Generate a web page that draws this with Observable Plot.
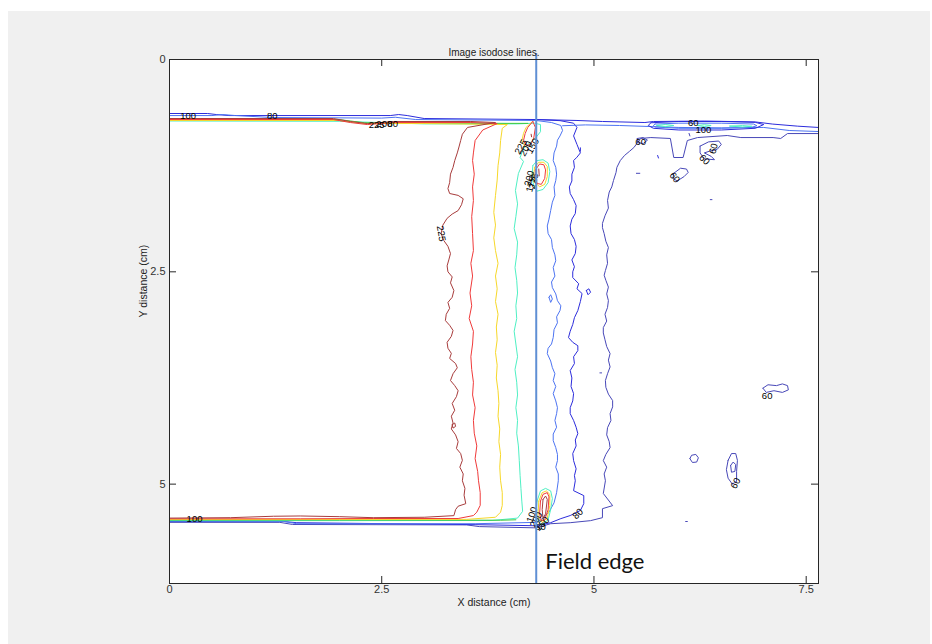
<!DOCTYPE html>
<html><head><meta charset="utf-8">
<script src="https://cdn.jsdelivr.net/npm/d3@7"></script>
<script src="https://cdn.jsdelivr.net/npm/@observablehq/plot@0.6"></script>
<style>
html,body{margin:0;padding:0;background:#fff;}
#bg{position:absolute;left:8px;top:11px;width:922px;height:633px;background:#f0f0f0;}
#chart{position:absolute;left:0;top:0;}
</style></head><body><div id="bg"></div><div id="chart"></div>
<script>
// axis ticks / extents (cm)
const xTicks = [0, 2.5, 5, 7.5];
const yTicks = [0, 2.5, 5];
const xMax = 7.645, yMax = 6.17;
const fieldEdge = 4.32;

// isodose levels
const levels = [225, 200, 175, 125, 150, 100, 80, 60];

// contour paths [x cm, y cm]
const iso225 = [[0,0.695],[0.36,0.695],[1.93,0.695],[2.13,0.73],[2.33,0.754],[2.64,0.73],[3.55,0.73],[3.84,0.742],[3.51,0.80],[3.45,0.88],[3.43,0.954],[3.41,1.03],[3.39,1.10],[3.36,1.19],[3.34,1.27],[3.31,1.35],[3.30,1.45],[3.28,1.52],[3.30,1.578],[3.40,1.60],[3.46,1.64],[3.44,1.71],[3.40,1.779],[3.33,1.82],[3.27,1.87],[3.22,1.95],[3.20,2.05],[3.23,2.13],[3.28,2.20],[3.31,2.285],[3.29,2.36],[3.27,2.43],[3.28,2.50],[3.33,2.56],[3.31,2.63],[3.35,2.72],[3.33,2.80],[3.28,2.86],[3.30,2.93],[3.26,3.00],[3.25,3.074],[3.30,3.13],[3.34,3.19],[3.32,3.26],[3.27,3.33],[3.28,3.40],[3.32,3.46],[3.30,3.52],[3.37,3.58],[3.39,3.63],[3.34,3.70],[3.31,3.78],[3.36,3.84],[3.40,3.90],[3.38,3.97],[3.33,4.05],[3.36,4.13],[3.32,4.20],[3.34,4.28],[3.32,4.35],[3.37,4.42],[3.40,4.50],[3.38,4.58],[3.43,4.64],[3.45,4.72],[3.42,4.80],[3.46,4.88],[3.45,4.96],[3.48,5.05],[3.47,5.13],[3.49,5.23],[3.40,5.26],[3.37,5.30],[3.35,5.371],[3.0,5.39],[2.40,5.395],[2.0,5.383],[1.54,5.375],[1.225,5.378],[0.72,5.395],[0,5.40]];
const iso200 = [[0,0.707],[1.93,0.707],[2.13,0.742],[2.33,0.766],[2.64,0.742],[3.55,0.742],[3.86,0.754],[3.69,0.83],[3.60,0.954],[3.58,1.10],[3.57,1.19],[3.59,1.35],[3.57,1.50],[3.58,1.66],[3.56,1.85],[3.57,2.05],[3.58,2.25],[3.55,2.40],[3.57,2.55],[3.54,2.75],[3.56,2.90],[3.53,3.05],[3.58,3.20],[3.57,3.35],[3.55,3.50],[3.56,3.65],[3.58,3.80],[3.57,3.95],[3.60,4.10],[3.58,4.25],[3.59,4.40],[3.62,4.55],[3.60,4.70],[3.63,4.85],[3.64,4.96],[3.66,5.10],[3.66,5.25],[3.62,5.33],[3.58,5.37],[3.40,5.405],[2.4,5.405],[1.54,5.408],[0,5.408]];
const iso175 = [[0,0.718],[2.0,0.718],[2.3,0.754],[3.0,0.754],[3.98,0.766],[3.92,0.81],[3.90,0.954],[3.89,1.10],[3.87,1.25],[3.86,1.42],[3.84,1.60],[3.82,1.80],[3.84,1.95],[3.82,2.10],[3.84,2.25],[3.87,2.40],[3.84,2.55],[3.86,2.70],[3.84,2.85],[3.87,3.00],[3.85,3.15],[3.86,3.30],[3.84,3.45],[3.86,3.60],[3.85,3.75],[3.87,3.90],[3.88,4.05],[3.87,4.20],[3.89,4.35],[3.88,4.50],[3.90,4.65],[3.89,4.80],[3.90,4.96],[3.92,5.10],[3.92,5.25],[3.90,5.33],[3.84,5.39],[3.5,5.415],[2.0,5.416],[0,5.416]];
const iso125top = [[0,0.703],[2.0,0.708],[2.3,0.745],[3.0,0.748],[4.0,0.752],[4.22,0.752]];
const iso125bottom = [[0,5.423],[2.0,5.423],[3.9,5.425],[4.08,5.42]];
const iso150 = [[0,0.724],[2.0,0.728],[3.0,0.758],[4.1,0.758],[4.30,0.75],[4.37,0.766],[4.37,0.85],[4.30,0.94],[4.22,1.00],[4.17,1.05],[4.13,1.154],[4.17,1.20],[4.11,1.343],[4.075,1.543],[4.10,1.70],[4.08,1.85],[4.06,1.99],[4.10,2.15],[4.09,2.30],[4.07,2.45],[4.09,2.60],[4.10,2.75],[4.08,2.90],[4.09,3.05],[4.06,3.20],[4.08,3.35],[4.10,3.50],[4.07,3.65],[4.09,3.80],[4.10,3.95],[4.08,4.10],[4.10,4.25],[4.09,4.40],[4.11,4.55],[4.12,4.72],[4.13,4.90],[4.14,5.05],[4.15,5.20],[4.16,5.32],[4.10,5.40],[3.8,5.428],[2.0,5.43],[0,5.43]];
const iso100 = [[0,0.66],[0.5,0.66],[0.62,0.648],[0.78,0.66],[1.2,0.683],[2.5,0.69],[2.66,0.68],[2.9,0.707],[4.32,0.718],[4.5,0.742],[4.61,0.777],[4.63,0.836],[4.60,0.90],[4.57,0.95],[4.56,1.02],[4.53,1.10],[4.52,1.19],[4.55,1.27],[4.56,1.35],[4.55,1.425],[4.53,1.50],[4.54,1.60],[4.51,1.68],[4.49,1.779],[4.47,1.88],[4.45,1.96],[4.46,2.05],[4.50,2.12],[4.51,2.214],[4.54,2.30],[4.55,2.37],[4.52,2.45],[4.54,2.55],[4.50,2.62],[4.51,2.686],[4.55,2.76],[4.57,2.84],[4.61,2.90],[4.60,2.956],[4.56,3.03],[4.57,3.10],[4.53,3.18],[4.52,3.274],[4.50,3.35],[4.46,3.40],[4.45,3.463],[4.49,3.55],[4.51,3.628],[4.54,3.70],[4.52,3.78],[4.55,3.85],[4.52,3.934],[4.55,4.02],[4.57,4.10],[4.56,4.17],[4.54,4.25],[4.56,4.33],[4.52,4.41],[4.52,4.488],[4.55,4.57],[4.57,4.65],[4.57,4.723],[4.55,4.80],[4.58,4.88],[4.58,4.96],[4.56,5.10],[4.53,5.22],[4.47,5.33],[4.40,5.40],[4.33,5.45],[3.6,5.466],[1.5,5.466],[1.35,5.44],[0,5.435]];
const iso80 = [[0,0.636],[0.45,0.636],[0.55,0.648],[0.7,0.66],[2.6,0.66],[2.7,0.648],[2.8,0.66],[3.0,0.695],[4.32,0.707],[4.6,0.72],[4.76,0.75],[4.80,0.80],[4.76,0.90],[4.80,1.0],[4.84,1.10],[4.80,1.15],[4.76,1.19],[4.77,1.27],[4.74,1.35],[4.74,1.43],[4.71,1.50],[4.72,1.578],[4.76,1.65],[4.79,1.72],[4.78,1.814],[4.74,1.88],[4.72,1.96],[4.73,2.05],[4.77,2.12],[4.79,2.20],[4.78,2.285],[4.74,2.36],[4.77,2.44],[4.75,2.50],[4.75,2.568],[4.82,2.64],[4.80,2.70],[4.86,2.756],[4.84,2.85],[4.81,2.956],[4.77,3.04],[4.75,3.12],[4.72,3.20],[4.70,3.274],[4.75,3.33],[4.81,3.37],[4.81,3.428],[4.76,3.50],[4.77,3.58],[4.72,3.663],[4.74,3.75],[4.73,3.85],[4.76,3.934],[4.75,4.02],[4.72,4.10],[4.72,4.17],[4.76,4.25],[4.79,4.33],[4.81,4.405],[4.78,4.48],[4.79,4.55],[4.75,4.64],[4.76,4.723],[4.79,4.82],[4.77,4.90],[4.78,4.96],[4.76,5.077],[4.88,5.135],[4.88,5.23],[4.84,5.31],[4.72,5.37],[4.61,5.406],[4.49,5.454],[4.32,5.49],[3.6,5.477],[1.5,5.454],[1.35,5.44],[0,5.44]];
const iso60 = [[0,5.45],[1.3,5.45],[1.45,5.475],[3.5,5.48],[3.65,5.50],[4.32,5.515],[4.49,5.466],[4.72,5.454],[4.96,5.43],[5.10,5.395],[5.10,5.289],[5.22,5.253],[5.11,5.11],[5.135,4.96],[5.12,4.88],[5.15,4.80],[5.11,4.723],[5.14,4.65],[5.19,4.57],[5.18,4.50],[5.15,4.42],[5.16,4.335],[5.20,4.25],[5.19,4.17],[5.22,4.09],[5.22,4.016],[5.17,3.94],[5.14,3.86],[5.135,3.78],[5.16,3.70],[5.19,3.62],[5.17,3.54],[5.19,3.463],[5.15,3.38],[5.13,3.30],[5.11,3.22],[5.11,3.157],[5.15,3.08],[5.13,3.00],[5.16,2.92],[5.17,2.839],[5.15,2.76],[5.17,2.68],[5.14,2.60],[5.12,2.54],[5.135,2.485],[5.16,2.40],[5.15,2.30],[5.17,2.214],[5.14,2.14],[5.12,2.05],[5.10,1.98],[5.10,1.93],[5.13,1.84],[5.17,1.75],[5.16,1.66],[5.18,1.56],[5.21,1.50],[5.23,1.425],[5.26,1.33],[5.27,1.27],[5.31,1.19],[5.36,1.13],[5.42,1.08],[5.47,1.037],[5.52,0.97],[5.55,0.93],[5.67,0.919],[5.90,0.93],[5.94,1.154],[6.05,1.154],[6.10,0.954],[6.22,0.919],[6.57,0.895],[6.73,0.919],[7.11,0.919],[7.20,0.93],[7.28,0.872],[7.64,0.872]];
// top-right band and lens
const top80 = [[4.32,0.707],[4.8,0.718],[5.1,0.73],[5.6,0.742],[5.7,0.73],[6.3,0.725],[6.9,0.735],[7.1,0.76],[7.4,0.785],[7.64,0.80]];
const top100 = [[4.63,0.78],[4.9,0.77],[5.3,0.777],[5.65,0.789],[6.0,0.80],[6.5,0.805],[7.0,0.80],[7.3,0.836],[7.64,0.848]];
const lens80 = [[5.67,0.745],[6.0,0.73],[6.5,0.73],[6.9,0.74],[7.0,0.766],[6.9,0.81],[6.5,0.83],[6.0,0.83],[5.7,0.81],[5.64,0.777],[5.67,0.745]];
const lens100 = [[5.72,0.76],[6.0,0.75],[6.5,0.75],[6.88,0.76],[6.92,0.78],[6.85,0.80],[6.5,0.81],[6.0,0.81],[5.72,0.795],[5.70,0.777],[5.72,0.76]];
const lens150a = [[5.74,0.777],[5.84,0.766],[5.94,0.777],[5.84,0.792],[5.74,0.777]];
const lens150b = [[6.22,0.777],[6.30,0.768],[6.38,0.777],[6.30,0.79],[6.22,0.777]];
const lens150c = [[6.60,0.784],[6.75,0.778],[6.86,0.786],[6.75,0.795],[6.60,0.784]];
// small isolated loops
const loopA = [[5.51,0.93],[5.58,0.919],[5.63,0.95],[5.58,0.99],[5.52,0.98],[5.51,0.93]];
const loopB = [[6.25,1.02],[6.35,0.97],[6.47,0.96],[6.50,1.00],[6.45,1.06],[6.36,1.08],[6.30,1.10],[6.38,1.14],[6.42,1.18],[6.30,1.17],[6.25,1.10],[6.25,1.02]];
const loopC = [[5.94,1.34],[6.02,1.28],[6.09,1.29],[6.11,1.33],[6.06,1.38],[5.98,1.43],[5.93,1.40],[5.94,1.34]];
const loopD = [[6.99,3.87],[7.05,3.83],[7.15,3.84],[7.22,3.82],[7.28,3.84],[7.29,3.89],[7.22,3.92],[7.12,3.90],[7.03,3.92],[6.99,3.87]];
const loopE = [[6.13,4.70],[6.15,4.66],[6.20,4.65],[6.23,4.69],[6.21,4.74],[6.16,4.745],[6.13,4.70]];
const loopF = [[6.58,4.72],[6.62,4.64],[6.67,4.64],[6.69,4.72],[6.68,4.85],[6.68,4.97],[6.63,5.00],[6.58,4.93],[6.56,4.83],[6.58,4.72]];
const loopG = [[6.61,4.78],[6.64,4.74],[6.67,4.77],[6.66,4.85],[6.62,4.86],[6.61,4.78]];
const loopH = [[4.91,2.72],[4.94,2.70],[4.96,2.74],[4.93,2.77],[4.91,2.72]];
const loopI = [[3.33,4.30],[3.36,4.28],[3.37,4.32],[3.34,4.34],[3.33,4.30]];
const loopJ = [[4.47,2.80],[4.49,2.77],[4.51,2.82],[4.49,2.86],[4.47,2.80]];
const dot1 = [[6.08,5.44],[6.10,5.44]];
const dot2 = [[6.12,0.87],[6.13,0.90]];
const dot3 = [[5.75,1.13],[5.76,1.16]];
const dot4 = [[5.50,1.34],[5.54,1.34]];
const dot5 = [[6.37,1.65],[6.39,1.65]];
const dot6 = [[5.07,3.69],[5.09,3.69]];
const dot7 = [[4.84,1.04],[4.84,1.08]];
// hot spots near the field edge
const hs1red = [[4.28,0.73],[4.22,0.80],[4.19,0.87],[4.17,0.954],[4.20,1.013],[4.25,1.00],[4.29,0.93],[4.31,0.80],[4.28,0.73]];
const hs1yellow = [[4.27,0.735],[4.20,0.80],[4.17,0.87],[4.15,0.96],[4.19,1.03]];
const hs1dark = [[4.26,0.88],[4.265,0.91]];
const hs2aqua = [[4.28,1.25],[4.33,1.19],[4.40,1.18],[4.46,1.22],[4.48,1.32],[4.46,1.45],[4.40,1.53],[4.33,1.55],[4.29,1.48],[4.27,1.38],[4.28,1.25]];
const hs2yellow = [[4.30,1.27],[4.35,1.21],[4.41,1.21],[4.45,1.26],[4.45,1.38],[4.42,1.47],[4.36,1.50],[4.31,1.45],[4.29,1.36],[4.30,1.27]];
const hs2red = [[4.31,1.30],[4.36,1.23],[4.41,1.24],[4.43,1.30],[4.42,1.40],[4.38,1.47],[4.33,1.46],[4.31,1.38],[4.31,1.30]];
const hs2dark = [[4.35,1.29],[4.355,1.37]];
const hs3aqua = [[4.33,5.20],[4.37,5.08],[4.43,5.05],[4.49,5.08],[4.51,5.17],[4.49,5.30],[4.46,5.42],[4.38,5.48],[4.32,5.40],[4.32,5.30],[4.33,5.20]];
const hs3yellow = [[4.35,5.20],[4.39,5.10],[4.44,5.08],[4.48,5.12],[4.48,5.25],[4.45,5.40],[4.39,5.45],[4.34,5.38],[4.35,5.20]];
const hs3red = [[4.37,5.20],[4.40,5.12],[4.45,5.10],[4.47,5.15],[4.46,5.30],[4.42,5.42],[4.38,5.43],[4.36,5.35],[4.37,5.20]];
const hs3dark = [[4.40,5.18],[4.43,5.14],[4.45,5.18],[4.43,5.35],[4.40,5.40],[4.39,5.30],[4.40,5.18]];

const pieces = [
  [60, iso60],[80, iso80],[100, iso100],[150, iso150],[125, iso125top],[125, iso125bottom],
  [175, iso175],[200, iso200],[225, iso225],
  [100, top100],[80, top80],[80, lens80],[100, lens100],[150, lens150a],[150, lens150b],[150, lens150c],
  [60, loopA],[60, loopB],[60, loopC],[60, loopD],[60, loopE],[60, loopF],[60, loopG],[80, loopH],[225, loopI],[100, loopJ],
  [60, dot1],[60, dot2],[80, dot3],[60, dot4],[60, dot5],[60, dot6],[80, dot7],
  [175, hs1yellow],[200, hs1red],[225, hs1dark],
  [150, hs2aqua],[175, hs2yellow],[200, hs2red],[225, hs2dark],
  [150, hs3aqua],[175, hs3yellow],[200, hs3red],[225, hs3dark]
];

// contour labels: text, x, y, rotation
const labelText = ["100","80","225","200","80","60","100","60","60","60","60","225","60","60","100","80","225","200","150","200","175","225","100","200","150","80"];
const labelX =    [0.22,1.21,2.44,2.53,2.63,6.17,6.29,5.55,6.41,6.30,5.95,3.20,7.04,6.67,0.295,4.81,4.14,4.20,4.28,4.24,4.26,4.29,4.27,4.32,4.39,4.37];
const labelY =    [0.67,0.67,0.766,0.76,0.76,0.75,0.835,0.966,1.05,1.18,1.39,2.05,3.96,4.99,5.41,5.35,1.03,1.05,1.02,1.40,1.47,1.43,5.36,5.42,5.47,5.50];
const labelRot =  [0,0,0,0,0,0,0,0,-75,45,50,80,0,-60,0,-45,-60,-60,-60,-75,-75,-75,-70,-60,-45,0];

const colorRange = ["#a83c3c","#f03a3a","#f7d82a","#3cc83c","#4ff0c4","#4d74f2","#2c2cdc","#4848b8"];

const rows = pieces.flatMap(([level, pts], id) => pts.map(([x, y]) => ({x, y, level, id})));
const clabels = labelText.map((t, i) => ({t, x: labelX[i], y: labelY[i], r: labelRot[i]}));

const innerW = 932 - 169 - 114, innerH = 644 - 59 - 61;
const tlx = 7 * xMax / innerW, tly = 7 * yMax / innerH;
const font = "'Liberation Sans', Arial, sans-serif";

const chart = Plot.plot({
  width: 932, height: 644,
  marginLeft: 169, marginRight: 114, marginTop: 59, marginBottom: 61,
  x: {domain: [0, xMax], axis: null},
  y: {domain: [0, yMax], reverse: true, axis: null},
  color: {type: "ordinal", domain: levels, range: colorRange},
  style: {background: "transparent", fontFamily: font, overflow: "visible"},
  marks: [
    Plot.frame({fill: "white", stroke: null}),
    Plot.line(rows, {x: "x", y: "y", z: "id", stroke: "level", strokeWidth: 1, curve: "linear"}),
    Plot.text(clabels, {x: "x", y: "y", text: "t", rotate: "r", fontSize: 9.5, fill: "#000"}),
    Plot.ruleX([fieldEdge], {y1: -0.07, y2: yMax, stroke: "#5f8fd4", strokeWidth: 2}),
    Plot.text([{x: fieldEdge, y: 5.995, t: "Field edge"}], {x: "x", y: "y", text: "t", dx: 9, textAnchor: "start", lineAnchor: "bottom", fontSize: 22, fontFamily: "Lato, 'Open Sans', sans-serif", fill: "#111"}),
    // inward ticks on all four sides
    Plot.ruleX(xTicks, {x: d => d, y1: yMax, y2: yMax - tly, stroke: "#262626"}),
    Plot.ruleX(xTicks, {x: d => d, y1: 0, y2: tly, stroke: "#262626"}),
    Plot.ruleY(yTicks, {y: d => d, x1: 0, x2: tlx, stroke: "#262626"}),
    Plot.ruleY(yTicks, {y: d => d, x1: xMax, x2: xMax - tlx, stroke: "#262626"}),
    Plot.frame({stroke: "#262626", strokeWidth: 1}),
    // tick labels
    Plot.text(xTicks, {x: d => d, text: d => String(d), frameAnchor: "bottom", dy: 9, fontSize: 11, fill: "#333"}),
    Plot.text(yTicks, {y: d => d, text: d => String(d), frameAnchor: "left", dx: -4, textAnchor: "end", fontSize: 11, fill: "#333"}),
    // titles
    Plot.text(["Image isodose lines."], {text: d => d, frameAnchor: "top", dy: -11, fontSize: 10, fill: "#222"}),
    Plot.text(["X distance (cm)"], {text: d => d, frameAnchor: "bottom", dy: 22, fontSize: 10.5, fill: "#222"}),
    Plot.text(["Y distance (cm)"], {text: d => d, frameAnchor: "left", dx: -26, dy: -4, rotate: -90, fontSize: 10.5, fill: "#222"})
  ]
});
document.getElementById("chart").appendChild(chart);
</script>
</body></html>
